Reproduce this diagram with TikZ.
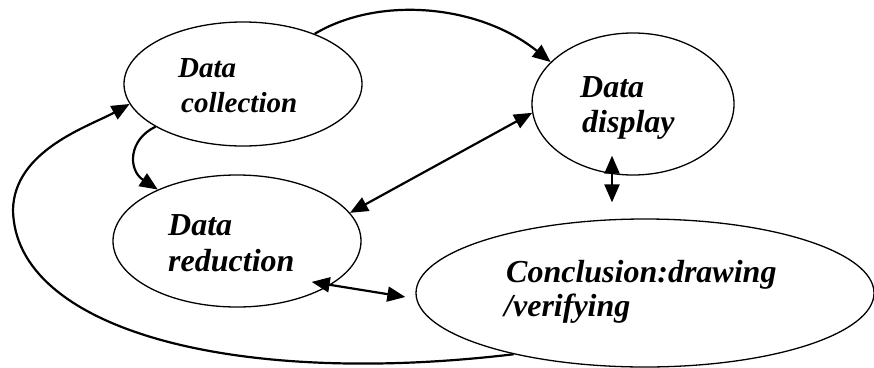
\documentclass[tikz,border=0pt]{standalone}
\usepackage{fontspec}
\setmainfont{Liberation Serif}
\usetikzlibrary{shapes.geometric,arrows.meta}
\begin{document}
\begin{tikzpicture}[x=1pt,y=-1pt,
  blob/.style={ellipse,draw,line width=1.3pt,inner sep=0pt},
  lbl/.style={anchor=base west,inner sep=0pt,font=\fontsize{32}{38}\selectfont\bfseries\itshape},
  lblsmall/.style={anchor=base west,inner sep=0pt,font=\fontsize{29}{35}\selectfont\bfseries\itshape},
  conn/.style={line width=2.2pt,-{Triangle[length=18pt,width=15pt]}},
  dconn/.style={line width=2.2pt,{Triangle[length=18pt,width=15pt]}-{Triangle[length=18pt,width=15pt]}}]
\useasboundingbox (0,0) rectangle (874,367);
\fill[white] (0,0) rectangle (874,367);
\clip (0,0) rectangle (874,367);
% ellipses
\node[blob,minimum width=238pt,minimum height=124pt] (coll) at (243,84) {};
\node[blob,minimum width=202pt,minimum height=142pt] (disp) at (633,104) {};
\node[blob,minimum width=248pt,minimum height=132pt] (red) at (237,241) {};
\node[blob,minimum width=458pt,minimum height=148pt] (conc) at (645,293) {};
% labels
\node[lblsmall] (collA) at (178,77) {Data};
\node[lblsmall] (collB) at (181,112) {collection};
\node[lbl] (dispA) at (580,97) {Data};
\node[lbl] (dispB) at (582,132) {display};
\node[lbl] (redA) at (168,235) {Data};
\node[lbl] (redB) at (168,271) {reduction};
\node[lbl] (concA) at (506,282) {Conclusion:drawing};
\node[lbl] (concB) at (504,316) {/verifying};
% connectors
\draw[conn] (coll.35) .. controls (380,-5) and (480,5) .. (disp.153);
\draw[conn] (coll.206) .. controls (128,140) and (128,170) .. (red.147);
\draw[dconn] (red.14) -- (disp.185);
\draw[dconn] ([shift={(-10,-8)}]red.-30) -- ([shift={(-10,4)}]conc.west);
\draw[dconn] ([xshift=-21pt,yshift=20pt]disp.south) -- ([xshift=-33pt,yshift=16pt]conc.north);
\coordinate (loopL) at (13,210);
\draw[conn] (conc.205) .. controls (230,388) and (15,328) .. (loopL)
  .. controls (14,150) and (90,126) .. (coll.190);
\end{tikzpicture}
\end{document}
